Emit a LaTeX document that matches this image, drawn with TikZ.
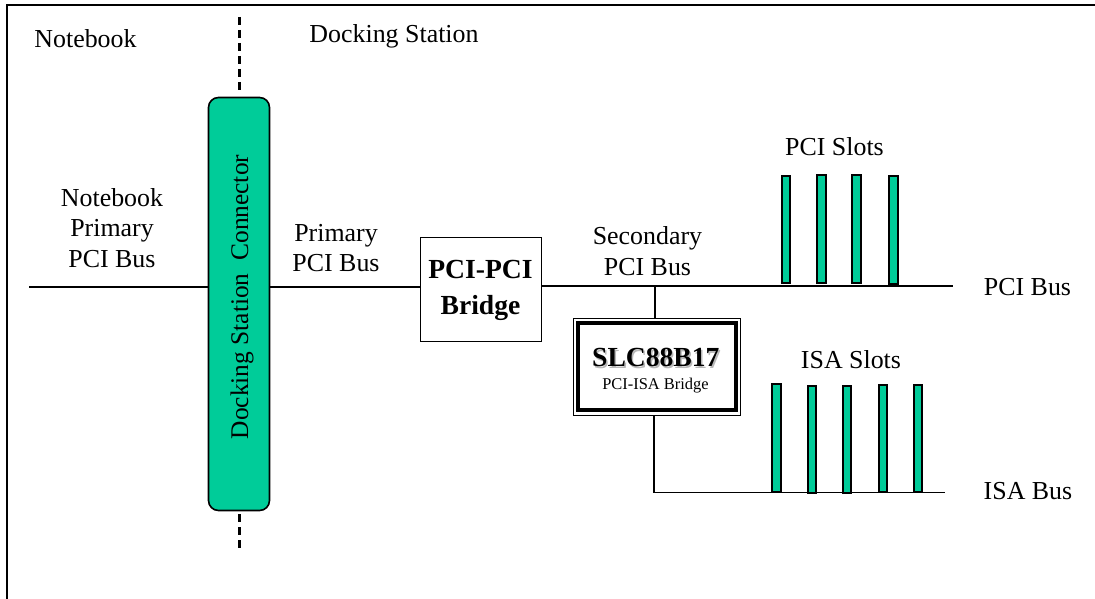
\documentclass[tikz,border=0pt]{standalone}
\usepackage{fontspec}
\setmainfont{Liberation Serif}
\definecolor{slotgreen}{RGB}{0,204,153}
\newcommand{\fs}[1]{\fontsize{#1}{#1}\selectfont}
\tikzset{
  lbl/.style={align=center,inner sep=0pt,font=\fs{26}},
  busline/.style={line width=1.3bp,black},
  slotbox/.style={draw=black,line width=2bp,fill=slotgreen,minimum width=8.2bp,inner sep=0pt},
  dashline/.style={line width=2.4bp,dash pattern=on 8bp off 5bp},
}
\begin{document}
\begin{tikzpicture}[x=1bp,y=-1bp,every node/.style={anchor=center}]
\useasboundingbox (0,0) rectangle (1095,599);
% frame
\draw[line width=2bp] (7,599) -- (7,5.5) -- (1095,5.5);
% dashed divider
\coordinate (dtt) at (239.5,17);
\coordinate (dtb) at (239.5,90);
\coordinate (dbt) at (239.5,514);
\coordinate (dbb) at (239.5,548);
\draw[dashline] (dtt) -- (dtb);
\draw[dashline] (dbt) -- (dbb);
% docking connector
\node[draw=black,line width=1.6bp,fill=slotgreen,rounded corners=10bp,minimum width=61bp,minimum height=413bp,inner sep=0pt] (conn) at (239,304) {};
\node[rotate=90,inner sep=0pt,font=\fs{25.5}] (connl) at (242,297) {Docking Station\ \ Connector};
% coordinates
\coordinate (nbL) at (29,287);
\coordinate (pciR) at (953,286);
\coordinate (isaR) at (945,492.5);
\node[draw=black,line width=1bp,minimum width=121bp,minimum height=104bp,inner sep=0pt] (bridge) at (480.5,289.5) {};
\node[inner sep=0pt,align=center,font=\bfseries\fs{27.7}] (bridget) at (480.5,290.5) {PCI-PCI\\[8bp]Bridge};
% SLC box
\node[draw=black,fill=white,line width=1bp,minimum width=167bp,minimum height=97bp,inner sep=0pt] (slcO) at (657.3,367) {};
\node[draw=black,line width=4bp,minimum width=158bp,minimum height=87bp,inner sep=0pt] (slcI) at (657,366.5) {};
\node[inner sep=0pt,text=black!28,font=\bfseries\fs{27.7}] (slcsh) at (657.3,359) {SLC88B17};
\node[inner sep=0pt,font=\bfseries\fs{27.7}] (slct) at (655.8,357.7) {SLC88B17};
\node[inner sep=0pt,font=\fs{16.5}] (slcs) at (655.5,386) {PCI-ISA Bridge};
% buses
\draw[busline] (nbL) -- (conn.west |- nbL);
\draw[busline] (conn.east |- nbL) -- (bridge.west |- nbL);
\draw[busline] (bridge.east |- pciR) -- (pciR);
\coordinate (jt) at (655,286);
\draw[busline] (jt) -- (jt |- slcO.north);
\coordinate (jb) at (654,492.5);
\draw[busline] (jb |- slcO.south) -- (jb) -- (isaR);
% slots
\foreach \n/\x/\t/\b in {a/786/175.5/283.5, b/821.5/175/283, c/856.5/175/283, d/893.5/176/284.5}{
  \node[slotbox,minimum height={\b-\t},] (\n) at (\x,{(\t+\b)/2}) {};
}
\foreach \n/\x/\t/\b in {e/776.5/384/492, f/812/385.5/493, g/847/385.5/493, h/883/384.5/492.5, i/918/384.5/492.5}{
  \node[slotbox,minimum height={\b-\t},] (\n) at (\x,{(\t+\b)/2}) {};
}
% labels
\node[lbl] (l1) at (85.5,39) {Notebook};
\node[lbl] (l2) at (394,36) {Docking Station};
\node[lbl] (l3) at (112,228) {Notebook\\[4.5bp]Primary\\[4.5bp]PCI Bus};
\node[lbl] (l4) at (336,248) {Primary\\[4.5bp]PCI Bus};
\node[lbl] (l5) at (647.5,251) {Secondary\\[4.5bp]PCI Bus};
\node[lbl] (l6) at (834.5,147) {PCI Slots};
\node[lbl] (l7) at (851,360) {ISA Slots};
\node[lbl] (l8) at (1027.5,287) {PCI Bus};
\node[lbl] (l9) at (1028,491) {ISA Bus};
\end{tikzpicture}
\end{document}
